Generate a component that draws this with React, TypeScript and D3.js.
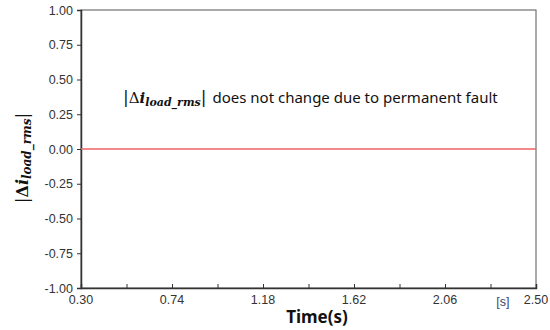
import { useEffect, useRef } from 'react';
import * as d3 from "d3";

const timeValues = [0.3, 0.74, 1.18, 1.62, 2.06, 2.5];
const deltaValues = [0, 0, 0, 0, 0, 0];
const xTickLabels = ["0.30", "0.74", "1.18", "1.62", "2.06", "2.50"];
const xMinorTicks = [0.52, 0.96, 1.40, 1.84, 2.28];
const yTicks = [1, 0.75, 0.5, 0.25, 0, -0.25, -0.5, -0.75, -1];
const yTickLabels = ["1.00", "0.75", "0.50", "0.25", "0.00", "-0.25", "-0.50", "-0.75", "-1.00"];

const App = () => {
    const ref = useRef<SVGSVGElement | null>(null);

    useEffect(() => {
        if (!ref.current) return;
        const width = 550;
        const height = 330;
        const margin = { top: 10, right: 14, bottom: 42, left: 81 };
        const innerWidth = width - margin.left - margin.right;
        const innerHeight = height - margin.top - margin.bottom;

        const svg = d3.select(ref.current).attr("width", width).attr("height", height);
        svg.selectAll("*").remove();

        const x = d3.scaleLinear().domain([0.3, 2.5]).range([0, innerWidth]);
        const y = d3.scaleLinear().domain([-1, 1]).range([innerHeight, 0]);

        const g = svg.append("g").attr("transform", `translate(${margin.left}, ${margin.top})`);

        // 프레임
        g.append("rect")
            .attr("x", 0).attr("y", 0)
            .attr("width", innerWidth).attr("height", innerHeight)
            .attr("fill", "none").attr("stroke", "#555").attr("stroke-width", 1);

        // y축
        const yAxis = g.append("g")
            .call(d3.axisLeft(y).tickValues(yTicks).tickSize(4).tickFormat((_, i) => yTickLabels[i]));
        yAxis.select(".domain").attr("stroke", "#333").attr("stroke-width", 1.5);
        yAxis.selectAll("line").attr("stroke", "#333");
        yAxis.selectAll("text")
            .attr("fill", "#333").attr("font-family", "Arial, Liberation Sans, sans-serif")
            .attr("font-size", "12.5px").attr("dx", "-1");

        // x축 (눈금은 안쪽)
        const xAxis = g.append("g").attr("transform", `translate(0, ${innerHeight})`)
            .call(d3.axisBottom(x).tickValues([...timeValues, ...xMinorTicks]).tickSize(-4).tickFormat(() => ""));
        xAxis.select(".domain").attr("stroke", "#333").attr("stroke-width", 1.5);
        xAxis.selectAll("line").attr("stroke", "#333");

        g.selectAll(".xlabel")
            .data(timeValues)
            .enter()
            .append("text")
            .attr("class", "xlabel")
            .attr("x", d => x(d))
            .attr("y", innerHeight + 16)
            .attr("text-anchor", "middle")
            .attr("fill", "#333")
            .attr("font-family", "Arial, Liberation Sans, sans-serif")
            .attr("font-size", "12.5px")
            .text((_, i) => xTickLabels[i]);

        g.append("text")
            .attr("x", x(2.34))
            .attr("y", innerHeight + 18)
            .attr("text-anchor", "middle")
            .attr("fill", "#3a4a6a")
            .attr("font-family", "Arial, Liberation Sans, sans-serif")
            .attr("font-size", "12.5px")
            .text("[s]");

        // 데이터 라인
        const line = d3.line<number>()
            .x((_, i) => x(timeValues[i]))
            .y(d => y(d));
        g.append("path")
            .datum(deltaValues)
            .attr("fill", "none")
            .attr("stroke", "#f26060")
            .attr("stroke-width", 1.5)
            .attr("d", line);

        // 주석
        const note = g.append("text")
            .attr("x", 42)
            .attr("y", 93)
            .attr("fill", "#111")
            .attr("font-family", "Noto Sans, Open Sans, sans-serif")
            .attr("font-size", "15px");
        note.append("tspan").attr("font-family", "DejaVu Serif, serif").attr("font-size", "17px").text("|");
        note.append("tspan").attr("font-family", "DejaVu Serif, serif").attr("font-size", "15px").text("Δ");
        note.append("tspan").attr("font-family", "DejaVu Serif, serif").attr("font-weight", "bold").attr("font-style", "italic").attr("font-size", "15px").text("i");
        note.append("tspan").attr("font-family", "DejaVu Serif, serif").attr("font-weight", "bold").attr("font-style", "italic").attr("font-size", "11px").attr("dy", 3).text("load_rms");
        note.append("tspan").attr("font-family", "DejaVu Serif, serif").attr("font-size", "17px").attr("dy", -3).text("|");
        note.append("tspan").attr("dx", 6).text("does not change due to permanent fault");

        // x축 제목
        svg.append("text")
            .attr("x", 317)
            .attr("y", 323)
            .attr("text-anchor", "middle")
            .attr("fill", "#111")
            .attr("font-family", "Noto Sans, Open Sans, sans-serif")
            .attr("font-weight", "bold")
            .attr("font-size", "17px")
            .text("Time(s)");

        // y축 제목
        const yl = svg.append("text")
            .attr("transform", "translate(28, 158) rotate(-90)")
            .attr("text-anchor", "middle")
            .attr("fill", "#111")
            .attr("font-family", "DejaVu Serif, serif")
            .attr("font-size", "17px");
        yl.append("tspan").text("|");
        yl.append("tspan").attr("font-size", "16px").attr("font-weight", "bold").text("Δ");
        yl.append("tspan").attr("font-weight", "bold").attr("font-style", "italic").attr("font-size", "16px").text("i");
        yl.append("tspan").attr("font-weight", "bold").attr("font-style", "italic").attr("font-size", "12px").attr("dy", 3).text("load_rms");
        yl.append("tspan").attr("dy", -3).text("|");
    }, []);

    return (
        <div style={{ position: "absolute", left: 0, top: 0 }}>
            <svg ref={ref}></svg>
        </div>
    );
};

export default App;
